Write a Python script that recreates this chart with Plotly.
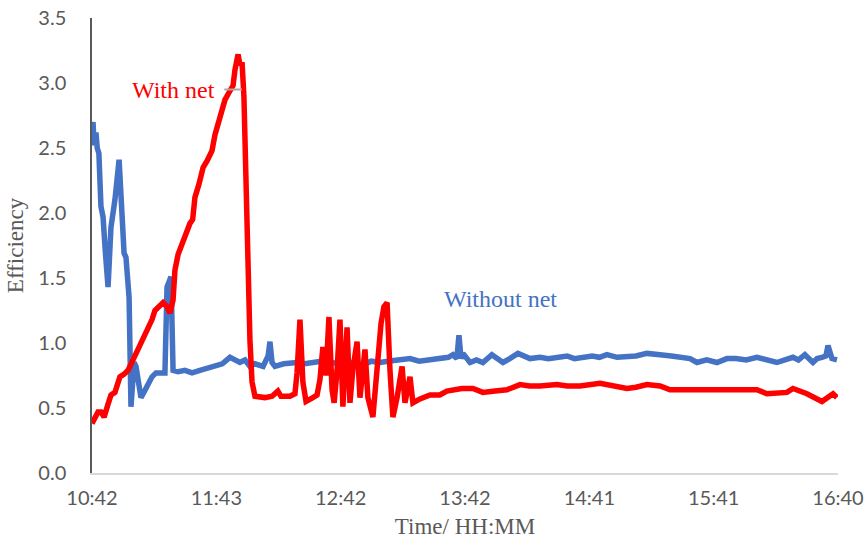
import plotly.graph_objects as go
import numpy as np

# minutes after 10:42
blue_t = [0, 0.5, 1.0, 1.9, 2.5, 3.3, 4.3, 5.3, 6.4, 7.7, 9.1, 11.0, 13.0, 13.9, 15.4, 16.3, 17.8, 18.7,
          20.2, 21.1, 23.5, 25.2, 26.9, 28.8, 30.7, 33.0, 35.0, 36.0, 36.8, 37.9, 38.9, 41.3, 44.6,
          48.0, 51.8, 55.5, 59.0, 62.5, 66.2, 68.6, 71.0, 73.4, 75.8, 78.2, 82.1, 84.5, 85.4, 86.4,
          87.8, 92.0, 98.4, 102.0, 106.0, 110.0, 114.2, 120.0, 125.0, 130.0, 134.0, 138.2, 142.0,
          146.4, 152.6, 157.0, 162.2, 167.0, 171.0, 173.2, 175.1, 176.1, 177.1, 178.0, 181.4, 184.5,
          187.6, 191.9, 197.2, 200.5, 204.4, 210.2, 215.0, 219.0, 223.1, 228.0, 231.5, 235.6, 240.0,
          243.5, 247.1, 252.0, 256.7, 261.0, 266.3, 269.5, 272.6, 278.0, 283.6, 287.0, 290.3, 295.0,
          299.9, 304.7, 309.0, 314.0, 319.1, 324.0, 328.7, 332.5, 336.4, 339.0, 342.1, 346.0, 348.0,
          350.3, 352.2, 353.2, 354.1, 355.1, 357.5]
blue_v = [2.62, 2.70, 2.52, 2.62, 2.50, 2.46, 2.05, 1.97, 1.70, 1.43, 1.89, 2.10, 2.41, 2.12, 1.69, 1.66,
          1.35, 0.51, 0.85, 0.82, 0.58, 0.63, 0.69, 0.74, 0.77, 0.77, 0.77, 1.43, 1.46, 1.51, 0.79,
          0.78, 0.79, 0.77, 0.79, 0.81, 0.82, 0.84, 0.89, 0.87, 0.85, 0.87, 0.82, 0.84, 0.82, 0.90,
          1.01, 0.85, 0.82, 0.84, 0.85, 0.84, 0.85, 0.86, 0.85, 0.84, 0.85, 0.83, 0.86, 0.85, 0.86,
          0.87, 0.88, 0.86, 0.87, 0.88, 0.89, 0.91, 0.88, 1.06, 0.88, 0.92, 0.85, 0.87, 0.85, 0.91,
          0.85, 0.88, 0.92, 0.88, 0.89, 0.88, 0.89, 0.90, 0.88, 0.89, 0.90, 0.89, 0.91, 0.89, 0.89,
          0.90, 0.92, 0.91, 0.91, 0.90, 0.89, 0.88, 0.85, 0.87, 0.85, 0.88, 0.88, 0.87, 0.89, 0.87,
          0.85, 0.87, 0.89, 0.87, 0.91, 0.85, 0.88, 0.89, 0.90, 0.98, 0.92, 0.88, 0.87]

red_t = [0, 1.4, 2.9, 4.3, 5.8, 7.7, 9.1, 11.0, 13.4, 15.4, 17.3, 19.7, 22.1, 24.5, 26.9, 28.8, 30.2,
         32.6, 34.1, 36.0, 37.4, 38.9, 39.8, 41.3, 43.7, 45.6, 47.0, 48.3, 49.4, 51.3, 53.3, 55.2, 57.6,
         59.0, 60.9, 62.3, 63.8, 66.2, 67.7, 68.6, 70.1, 71.0, 72.0, 72.9, 73.9, 74.9, 75.8, 76.8, 78.2,
         83.0, 86.4, 89.2, 90.7, 95.0, 97.4, 98.4, 99.8, 101.2, 102.7, 106.0, 108.0, 109.4, 110.8,
         112.3, 113.7, 115.2, 116.2, 117.6, 119.0, 120.4, 121.4, 122.4, 123.8, 125.2, 127.2, 128.6,
         131.0, 132.4, 134.8, 136.8, 138.7, 140.1, 141.6, 143.0, 144.4, 146.4, 148.8, 150.2, 152.6,
         154.0, 157.4, 162.2, 166.9, 170.3, 173.2, 177.5, 182.8, 187.6, 193.4, 199.1, 205.4, 210.0,
         215.0, 223.1, 228.0, 234.2, 243.8, 251.0, 256.7, 261.0, 266.3, 272.6, 277.4, 285.5, 295.1,
         304.7, 312.0, 319.1, 323.9, 328.0, 333.5, 336.4, 343.1, 350.3, 355.6, 357.5]
red_v = [0.38, 0.42, 0.47, 0.47, 0.43, 0.53, 0.60, 0.62, 0.74, 0.76, 0.79, 0.87, 0.95, 1.03, 1.10, 1.18,
         1.25, 1.29, 1.31, 1.28, 1.23, 1.33, 1.56, 1.68, 1.79, 1.88, 1.92, 1.95, 2.12, 2.22, 2.35, 2.40, 2.48,
         2.60, 2.70, 2.76, 2.87, 2.94, 2.98, 3.10, 3.22, 3.14, 3.16, 2.90, 2.20, 1.50, 1.02, 0.70, 0.59,
         0.58, 0.59, 0.63, 0.59, 0.59, 0.61, 0.77, 1.18, 0.70, 0.55, 0.58, 0.60, 0.72, 0.97,
         0.75, 1.20, 0.64, 0.54, 0.79, 1.18, 0.51, 0.80, 1.12, 0.54, 0.80, 1.01, 0.58,
         0.95, 0.58, 0.43, 0.79, 1.15, 1.28, 1.31, 0.79, 0.43, 0.58, 0.82, 0.54, 0.74,
         0.54, 0.57, 0.60, 0.60, 0.63, 0.64, 0.65, 0.65, 0.62, 0.63, 0.64, 0.68, 0.67,
         0.67, 0.68, 0.67, 0.67, 0.69, 0.67, 0.65, 0.66, 0.68, 0.67, 0.64, 0.64, 0.64,
         0.65, 0.64, 0.64, 0.61, 0.61, 0.62, 0.65, 0.61, 0.55, 0.61, 0.58]

x_tick_labels = ["10:42", "11:43", "12:42", "13:42", "14:41", "15:41", "16:40"]
y_ticks = [0.0, 0.5, 1.0, 1.5, 2.0, 2.5, 3.0, 3.5]
total_minutes = 358

fig = go.Figure()
fig.add_trace(go.Scatter(x=blue_t, y=blue_v, mode="lines", name="Without net",
                         line=dict(color="#4472C4", width=5.5)))
fig.add_trace(go.Scatter(x=red_t, y=red_v, mode="lines", name="With net",
                         line=dict(color="#FF0000", width=5.5)))

serif = "Liberation Serif, Times New Roman, serif"
fig.add_annotation(x=60.2, y=2.95, text="With net", showarrow=False, xanchor="right",
                   font=dict(family=serif, size=24, color="#FF0000"))
fig.add_shape(type="line", x0=63.5, x1=72.0, y0=2.95, y1=2.95,
              line=dict(color="#A6A6A6", width=2))
fig.add_annotation(x=195.8, y=1.34, text="Without net", showarrow=False,
                   font=dict(family=serif, size=24, color="#4472C4"))

fig.update_layout(
    width=867, height=545,
    margin=dict(l=92, r=29, t=18, b=72),
    paper_bgcolor="white", plot_bgcolor="white",
    showlegend=False,
)
fig.update_xaxes(
    range=[0, total_minutes], automargin=False,
    tickvals=list(np.linspace(0, total_minutes, len(x_tick_labels))),
    ticktext=x_tick_labels,
    showgrid=False, zeroline=False,
    showline=True, linecolor="#D9D9D9", linewidth=1.5,
    ticks="", ticklabelstandoff=6,
    tickfont=dict(family="Lato, Carlito, sans-serif", size=20, color="#595959"),
    title=dict(text="Time/ HH:MM", font=dict(family=serif, size=23, color="#595959"), standoff=10),
)
fig.update_yaxes(
    range=[0, 3.5], automargin=False,
    tickvals=y_ticks, tickformat=".1f",
    showgrid=False, zeroline=False,
    showline=True, linecolor="#595959", linewidth=1.5,
    ticks="", ticklabelstandoff=20,
    tickfont=dict(family="Lato, Carlito, sans-serif", size=20, color="#595959"),
    title=dict(text="Efficiency", font=dict(family=serif, size=23, color="#595959"), standoff=8),
)

fig.write_html("out.html")
